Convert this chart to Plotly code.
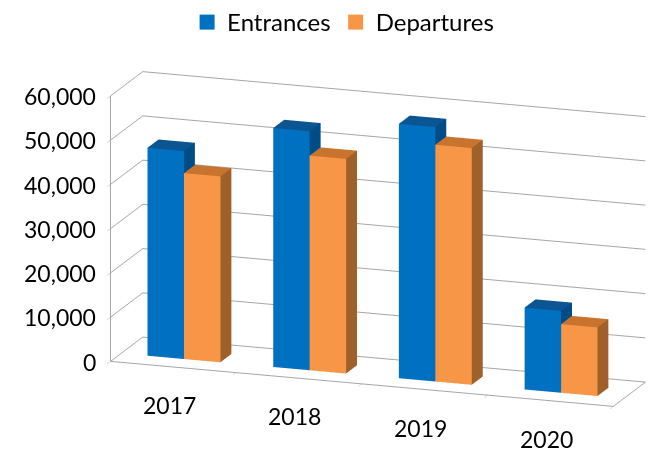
import plotly.graph_objects as go

years = ["2017", "2018", "2019", "2020"]
entrances = [47000, 54000, 57500, 18500]
departures = [42000, 48500, 53500, 15500]
value_ticks = [0, 10000, 20000, 30000, 40000, 50000, 60000]

series = [
    ("Entrances", entrances, "#0070C0", "#0A5592", "#004C86"),
    ("Departures", departures, "#F79646", "#C8742F", "#A0602A"),
]

BAR_W = 0.29
Y0, Y1 = 0.33, 0.67


def box(x0, x1, y0, y1, z1, front, top, side):
    xs = [x0, x1, x1, x0, x0, x1, x1, x0]
    ys = [y0, y0, y1, y1, y0, y0, y1, y1]
    zs = [0, 0, 0, 0, z1, z1, z1, z1]
    tri = [
        (0, 1, 5, front), (0, 5, 4, front),   # front y0
        (3, 2, 6, side), (3, 6, 7, side),     # back
        (1, 2, 6, side), (1, 6, 5, side),     # right x1
        (0, 3, 7, front), (0, 7, 4, front),   # left x0
        (4, 5, 6, top), (4, 6, 7, top),       # top
        (0, 1, 2, side), (0, 2, 3, side),     # bottom
    ]
    return (xs, ys, zs, [t[0] for t in tri], [t[1] for t in tri],
            [t[2] for t in tri], [t[3] for t in tri])


fig = go.Figure()
for s_idx, (name, vals, front, top, side) in enumerate(series):
    X, Y, Z, I, J, K, FC = [], [], [], [], [], [], []
    for c_idx, v in enumerate(vals):
        x0 = c_idx - BAR_W + s_idx * BAR_W
        xs, ys, zs, i, j, k, fc = box(x0, x0 + BAR_W, Y0, Y1, v, front, top, side)
        off = len(X)
        X += xs; Y += ys; Z += zs
        I += [a + off for a in i]; J += [a + off for a in j]; K += [a + off for a in k]
        FC += fc
    fig.add_trace(go.Mesh3d(
        x=X, y=Y, z=Z, i=I, j=J, k=K, facecolor=FC, flatshading=True,
        lighting=dict(ambient=1, diffuse=0, specular=0, roughness=1, fresnel=0),
        hoverinfo="skip", showlegend=False, name=name,
    ))
    fig.add_trace(go.Scatter(
        x=[None], y=[None], mode="markers", name=name,
        marker=dict(symbol="square", size=15, color=front),
    ))

label_font = dict(family="Lato, Noto Sans, sans-serif", size=23, color="#000000")
annotations = []
for c_idx, yr in enumerate(years):
    annotations.append(dict(x=c_idx, y=0, z=0, text=yr, showarrow=False,
                            yshift=-38, xshift=-4, font=label_font))
for v in value_ticks:
    annotations.append(dict(x=-0.5, y=0, z=v, text=f"{v:,}", showarrow=False,
                            xanchor="right", xshift=-12, font=label_font))

grid = "#A6A6A6"
axis_common = dict(showbackground=False, showspikes=False, zeroline=False,
                   title=dict(text=""), linecolor=grid, linewidth=2,
                   showticklabels=False)
fig.update_layout(
    width=663, height=469,
    margin=dict(l=0, r=0, t=0, b=0),
    paper_bgcolor="white", plot_bgcolor="white",
    font=dict(family="Lato, Noto Sans, sans-serif", size=20, color="#000000"),
    legend=dict(orientation="h", x=0.5175, xanchor="center", y=1.0, yanchor="top",
                font=dict(size=24), bgcolor="rgba(0,0,0,0)"),
    xaxis=dict(visible=False), yaxis=dict(visible=False),
    scene=dict(
        domain=dict(x=[0.14, 1], y=[0.04, 0.94]),
        xaxis=dict(range=[-0.5, 3.5], tickvals=[-0.5, 0.5, 1.5, 2.5, 3.5],
                   showgrid=False, showline=True, ticks="outside",
                   tickcolor=grid, ticklen=8, **axis_common),
        yaxis=dict(range=[0, 1], showgrid=False, showline=True, ticks="",
                   **axis_common),
        zaxis=dict(range=[0, 60000], tickvals=value_ticks,
                   showgrid=True, gridcolor=grid, gridwidth=2, showline=True,
                   ticks="outside", tickcolor=grid, ticklen=8, **axis_common),
        aspectmode="manual",
        aspectratio=dict(x=2.52, y=0.468, z=1.303),
        camera=dict(eye=dict(x=0.52, y=-1.51, z=0.43),
                    center=dict(x=0, y=0, z=0),
                    projection=dict(type="orthographic")),
        annotations=annotations,
    ),
)
fig.write_html("out.html", config={"displayModeBar": False})
